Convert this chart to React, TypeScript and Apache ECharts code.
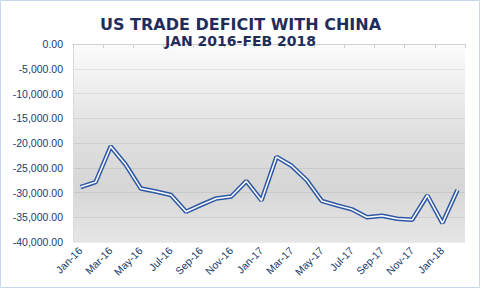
import React, { useEffect, useRef } from "react";
import * as echarts from "echarts";

const TITLE = "US TRADE DEFICIT WITH CHINA";
const SUBTITLE = "JAN 2016-FEB 2018";

const months = [
  "Jan-16", "Feb-16", "Mar-16", "Apr-16", "May-16", "Jun-16", "Jul-16", "Aug-16",
  "Sep-16", "Oct-16", "Nov-16", "Dec-16", "Jan-17", "Feb-17", "Mar-17", "Apr-17",
  "May-17", "Jun-17", "Jul-17", "Aug-17", "Sep-17", "Oct-17", "Nov-17", "Dec-17",
  "Jan-18", "Feb-18",
];

const deficit = [
  -28900, -27900, -20700, -24400, -29200, -29800, -30500, -33900,
  -32500, -31200, -30800, -27700, -31600, -22800, -24600, -27500,
  -31700, -32600, -33400, -35000, -34700, -35300, -35500, -30600,
  -36200, -29500,
];

const Y_MIN = -40000;
const Y_MAX = 0;
const Y_STEP = 5000;

const NAVY = "#203a6b";
const LINE_BLUE = "#2d58a3";

export default function App() {
  const ref = useRef<HTMLDivElement>(null);

  useEffect(() => {
    if (!ref.current) return;
    const chart = echarts.init(ref.current, null, { renderer: "svg" });
    const fmt = (v: number) =>
      v.toLocaleString("en-US", { minimumFractionDigits: 2, maximumFractionDigits: 2 });

    chart.setOption({
      animation: false,
      backgroundColor: "#ffffff",
      title: [
        {
          text: TITLE,
          left: "center",
          top: 11,
          textStyle: {
            fontFamily: "DejaVu Sans",
            fontWeight: "bold",
            fontSize: 16,
            color: "#1f2d5c",
          },
        },
        {
          text: SUBTITLE,
          left: "center",
          top: 29,
          textStyle: {
            fontFamily: "DejaVu Sans",
            fontWeight: "bold",
            fontSize: 14,
            color: "#1f2d5c",
          },
        },
      ],
      graphic: [
        {
          type: "rect",
          shape: { x: 0.5, y: 0.5, width: 479, height: 287 },
          style: { fill: "none", stroke: "#c8d6eb", lineWidth: 1 },
          silent: true,
        },
      ],
      grid: {
        left: 73,
        right: 16,
        top: 44,
        bottom: 47,
        show: true,
        borderWidth: 0,
        backgroundColor: new echarts.graphic.LinearGradient(0, 0, 0, 1, [
          { offset: 0, color: "#fbfbfb" },
          { offset: 0.45, color: "#e0e0e0" },
          { offset: 0.72, color: "#d6d6d6" },
          { offset: 1, color: "#e6e6e6" },
        ]),
      },
      xAxis: [
        {
          type: "category",
          data: months,
          position: "bottom",
          boundaryGap: true,
          axisLine: { show: false, onZero: false },
          axisTick: { show: false },
          axisLabel: {
            interval: 1,
            rotate: 45,
            margin: 7,
            fontFamily: "Liberation Sans",
            fontSize: 10.5,
            color: NAVY,
          },
        },
        {
          type: "category",
          data: months,
          position: "top",
          boundaryGap: true,
          axisLine: { show: true, onZero: false, lineStyle: { color: "#d0d0d0", width: 1 } },
          axisTick: { show: true, interval: 1, inside: true, length: 4, lineStyle: { color: "#cfcfcf" } },
          axisLabel: { show: false },
        },
      ],
      yAxis: {
        type: "value",
        min: Y_MIN,
        max: Y_MAX,
        interval: Y_STEP,
        axisLine: { show: true, lineStyle: { color: "#dadada" } },
        axisTick: { show: false },
        splitLine: { show: true, lineStyle: { color: "rgba(0,0,0,0.07)", width: 1 } },
        axisLabel: {
          formatter: fmt,
          margin: 10,
          fontFamily: "Liberation Sans",
          fontSize: 10.5,
          color: NAVY,
        },
      },
      series: [
        {
          type: "line",
          data: deficit,
          xAxisIndex: 0,
          symbol: "none",
          lineStyle: { color: LINE_BLUE, width: 4.5 },
          z: 2,
        },
        {
          type: "line",
          data: deficit,
          xAxisIndex: 0,
          symbol: "none",
          lineStyle: { color: "#ffffff", width: 1.5 },
          z: 3,
        },
      ],
    });

    return () => chart.dispose();
  }, []);

  return (
    <div
      ref={ref}
      style={{ position: "absolute", left: 0, top: 0, width: 481, height: 289 }}
    />
  );
}
